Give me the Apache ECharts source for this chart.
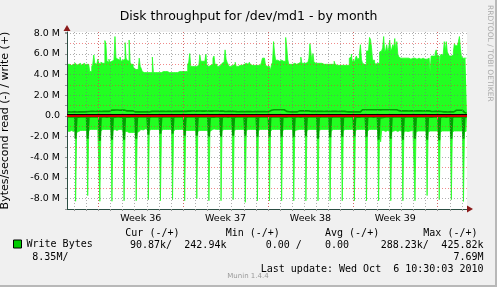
<!doctype html>
<html>
<head>
<meta charset="utf-8">
<title>Disk throughput for /dev/md1 - by month</title>
<script src="https://cdn.jsdelivr.net/npm/echarts@6/dist/echarts.min.js"></script>
<style>
  html, body { margin: 0; padding: 0; background: #f0f0f0; }
  #main { width: 497px; height: 287px; }
</style>
</head>
<body>
<div id="main"></div>
<script>
// 2 hour slots, first one Fri Sep 3 2010 10:00
var slotStart = Date.UTC(2010, 8, 3, 10, 0);
var slotMs = 2 * 3600 * 1000;

// values in MB/s, one row per 12 slots (one day)
var writeMax = [
  5.0,4.9,5.0,5.1,4.9,5.0,5.0,4.9,5.1,5.0,4.9,5.0,
  5.0,5.1,4.9,5.0,5.0,5.1,4.9,5.0,5.1,5.0,4.9,4.3,
  4.3,4.8,5.0,5.9,5.1,5.0,5.0,5.5,5.1,5.0,5.2,5.1,
  5.2,5.1,7.3,7.0,5.3,5.2,5.5,5.2,5.3,5.2,5.4,5.3,
  7.69,5.6,5.5,5.5,5.4,5.7,5.3,5.4,5.3,5.5,7.1,5.6,
  5.4,5.3,7.35,5.2,5.0,5.0,4.8,4.6,4.5,4.5,4.5,4.6,
  5.6,4.8,4.6,4.3,4.2,4.2,4.2,4.2,4.2,4.2,4.2,4.2,
  4.2,5.7,4.2,4.2,4.2,4.2,4.2,4.2,4.2,4.2,4.3,4.3,
  4.4,4.3,4.4,4.3,4.2,4.2,4.2,4.2,4.2,4.2,4.2,4.2,
  4.2,4.2,4.3,4.3,4.3,4.3,4.3,4.3,4.3,4.3,4.3,4.3,
  5.0,5.2,6.05,4.8,4.8,4.8,4.8,4.9,4.8,4.8,4.9,5.0,
  5.9,5.3,5.3,5.2,5.3,5.2,6.0,4.9,4.8,4.9,4.9,4.8,
  5.0,5.6,5.8,5.0,5.0,4.8,4.8,4.9,4.9,5.0,5.1,5.2,
  5.3,6.4,5.5,5.2,5.0,4.8,4.8,4.8,4.9,4.9,5.0,5.2,
  4.8,4.8,4.9,4.9,5.0,4.9,4.9,5.0,5.0,5.1,5.0,5.0,
  5.1,5.2,5.0,4.9,4.9,4.9,4.9,4.9,4.9,4.9,4.9,4.9,
  5.0,5.2,5.6,5.6,5.5,4.9,4.8,4.8,4.8,4.8,4.4,5.0,
  5.2,7.2,6.1,5.4,5.4,5.4,5.3,5.4,5.4,5.3,5.3,5.3,
  5.3,7.6,6.7,5.5,5.0,5.0,5.0,5.0,5.0,5.1,5.0,5.0,
  5.1,5.1,5.1,5.2,5.7,5.1,5.1,5.2,5.1,5.1,5.2,5.3,
  5.6,7.0,6.1,5.3,6.05,5.2,5.1,5.1,5.1,5.1,5.1,5.1,
  5.1,5.1,5.0,5.0,5.0,5.0,5.0,5.1,5.0,5.0,5.0,5.0,
  5.0,5.3,5.0,4.9,4.9,4.9,4.9,4.9,4.9,4.9,4.9,4.9,
  4.9,4.9,4.9,4.9,5.6,5.7,6.0,5.2,5.4,5.2,5.6,5.8,
  5.5,5.6,6.0,6.9,5.5,5.1,5.0,5.1,5.0,6.3,6.3,6.4,
  7.6,7.4,6.6,5.4,5.4,5.2,5.0,5.1,5.0,5.1,6.2,6.3,
  6.3,6.6,7.69,6.2,6.4,6.9,6.2,6.6,7.35,6.3,6.5,6.9,
  6.6,7.5,6.4,7.2,6.0,5.7,5.6,5.6,5.6,5.5,5.6,5.6,
  5.6,5.5,5.6,5.6,5.5,5.6,5.6,5.5,5.6,5.6,5.5,5.6,
  5.6,5.6,5.5,5.5,5.6,5.6,5.5,5.6,5.5,5.5,5.6,5.6,
  4.3,5.8,5.8,5.9,5.8,6.1,6.4,5.9,5.8,3.9,5.8,6.0,
  5.8,6.0,7.2,6.3,7.2,6.2,6.0,5.8,5.8,5.8,5.9,6.2,
  7.0,6.8,6.8,6.9,7.2,7.69,6.5,5.7,5.6,5.6,5.6,5.6,
  5.6
];

var readMax = [
  -1.45,-1.4,-1.5,-1.45,-1.4,-1.5,-1.45,-1.5,-1.4,-8.25,-1.6,-1.5,
  -1.45,-1.4,-1.45,-1.4,-1.5,-1.4,-1.45,-1.4,-1.35,-7.7,-1.5,-1.3,
  -1.3,-1.25,-1.3,-1.35,-1.3,-1.25,-1.3,-1.3,-1.35,-8.25,-1.45,-1.3,
  -1.3,-1.35,-1.3,-1.25,-1.3,-1.3,-1.35,-1.3,-1.3,-8.25,-1.4,-1.35,
  -1.3,-1.35,-1.4,-1.3,-1.35,-1.3,-1.4,-1.35,-1.4,-8.2,-1.5,-1.45,
  -1.5,-1.55,-1.6,-1.55,-1.6,-1.65,-1.6,-1.55,-1.6,-8.2,-1.6,-1.5,
  -1.35,-1.3,-1.3,-1.35,-1.3,-1.3,-1.25,-1.3,-1.3,-8.1,-1.4,-1.3,
  -1.3,-1.25,-1.3,-1.3,-1.35,-1.3,-1.3,-1.25,-1.3,-8.2,-1.4,-1.3,
  -1.3,-1.3,-1.35,-1.3,-1.3,-1.25,-1.3,-1.3,-1.35,-8.1,-1.45,-1.3,
  -1.3,-1.35,-1.3,-1.3,-1.25,-1.3,-1.3,-1.35,-1.3,-8.2,-1.4,-1.35,
  -1.4,-1.35,-1.4,-1.45,-1.4,-1.35,-1.4,-1.4,-1.45,-8.0,-1.5,-1.4,
  -1.4,-1.4,-1.45,-1.4,-1.35,-1.4,-1.45,-1.4,-1.4,-8.2,-1.5,-1.35,
  -1.3,-1.3,-1.25,-1.3,-1.3,-1.25,-1.3,-1.3,-1.3,-8.2,-1.4,-1.3,
  -1.3,-1.25,-1.3,-1.3,-1.25,-1.3,-1.3,-1.3,-1.25,-8.1,-1.4,-1.3,
  -1.3,-1.3,-1.25,-1.3,-1.3,-1.3,-1.25,-1.3,-1.3,-8.35,-1.4,-1.3,
  -1.3,-1.3,-1.35,-1.3,-1.3,-1.25,-1.3,-1.3,-1.3,-8.2,-1.4,-1.3,
  -1.3,-1.35,-1.3,-1.3,-1.35,-1.3,-1.3,-1.3,-1.35,-8.2,-1.45,-1.3,
  -1.3,-1.3,-1.35,-1.3,-1.3,-1.3,-1.35,-1.3,-1.3,-8.2,-1.4,-1.3,
  -1.3,-1.35,-1.3,-1.3,-1.3,-1.35,-1.3,-1.3,-1.3,-8.2,-1.45,-1.35,
  -1.3,-1.3,-1.3,-1.35,-1.3,-1.3,-1.3,-1.35,-1.3,-8.2,-1.4,-1.3,
  -1.3,-1.3,-1.35,-1.3,-1.3,-1.3,-1.3,-1.3,-1.35,-8.2,-1.4,-1.3,
  -1.3,-1.35,-1.3,-1.3,-1.3,-1.35,-1.3,-1.3,-1.3,-8.2,-1.45,-1.3,
  -1.3,-1.3,-1.3,-1.35,-1.3,-1.3,-1.35,-1.3,-1.3,-8.2,-1.4,-1.35,
  -1.3,-1.3,-1.35,-1.3,-1.3,-1.3,-1.3,-1.35,-1.3,-8.2,-1.4,-1.3,
  -1.3,-1.35,-1.3,-1.3,-1.3,-1.35,-1.3,-1.3,-1.3,-8.2,-1.45,-1.3,
  -1.3,-1.3,-1.35,-1.3,-1.3,-1.3,-1.35,-1.3,-1.3,-8.2,-1.4,-2.5,
  -1.4,-1.45,-1.4,-1.5,-1.45,-1.4,-1.45,-1.5,-1.4,-8.2,-1.55,-1.45,
  -1.45,-1.5,-1.4,-1.45,-1.5,-1.45,-1.4,-1.45,-1.5,-8.2,-1.55,-1.45,
  -1.45,-1.4,-1.5,-1.45,-1.45,-1.5,-1.4,-1.45,-1.45,-8.2,-1.55,-1.45,
  -1.45,-1.5,-1.45,-1.4,-1.45,-1.5,-1.45,-1.45,-1.4,-7.7,-1.55,-1.45,
  -1.45,-1.45,-1.5,-1.45,-1.4,-1.45,-1.5,-1.45,-1.45,-8.1,-1.55,-1.45,
  -1.4,-1.45,-1.5,-1.45,-1.45,-1.4,-1.45,-1.5,-1.45,-8.1,-1.55,-1.45,
  -1.45,-1.5,-1.45,-1.4,-1.45,-1.45,-1.5,-1.45,-1.45,-8.27,-1.55,-1.45,
  -1.45
];

var writeAvg = [
  0.40,0.40,0.41,0.40,0.39,0.40,0.40,0.41,0.40,0.40,0.39,0.40,
  0.40,0.41,0.40,0.40,0.40,0.39,0.40,0.40,0.41,0.40,0.44,0.45,
  0.45,0.46,0.45,0.45,0.44,0.45,0.45,0.46,0.45,0.45,0.44,0.45,
  0.45,0.45,0.46,0.45,0.45,0.44,0.45,0.55,0.58,0.58,0.57,0.58,
  0.58,0.57,0.58,0.58,0.56,0.58,0.57,0.58,0.58,0.57,0.52,0.50,
  0.50,0.51,0.50,0.50,0.49,0.50,0.42,0.40,0.40,0.41,0.40,0.40,
  0.40,0.40,0.39,0.40,0.40,0.40,0.41,0.40,0.40,0.39,0.40,0.45,
  0.45,0.46,0.45,0.45,0.45,0.44,0.45,0.45,0.46,0.45,0.45,0.45,
  0.45,0.45,0.44,0.45,0.46,0.45,0.45,0.45,0.44,0.45,0.45,0.46,
  0.45,0.45,0.45,0.44,0.45,0.46,0.45,0.45,0.45,0.44,0.45,0.45,
  0.47,0.48,0.47,0.48,0.48,0.47,0.48,0.48,0.47,0.48,0.48,0.47,
  0.48,0.48,0.47,0.48,0.47,0.48,0.48,0.47,0.48,0.48,0.47,0.48,
  0.47,0.48,0.48,0.47,0.48,0.47,0.48,0.48,0.47,0.48,0.48,0.47,
  0.45,0.45,0.44,0.45,0.45,0.46,0.45,0.44,0.45,0.45,0.44,0.45,
  0.42,0.42,0.41,0.42,0.42,0.43,0.42,0.42,0.41,0.42,0.42,0.42,
  0.42,0.43,0.42,0.42,0.41,0.42,0.42,0.43,0.42,0.42,0.42,0.42,
  0.42,0.42,0.43,0.42,0.42,0.42,0.41,0.42,0.42,0.43,0.55,0.60,
  0.60,0.61,0.60,0.60,0.59,0.60,0.60,0.61,0.60,0.60,0.59,0.60,
  0.60,0.45,0.40,0.40,0.41,0.40,0.40,0.39,0.40,0.40,0.41,0.40,
  0.40,0.48,0.50,0.50,0.51,0.50,0.50,0.49,0.50,0.50,0.51,0.50,
  0.47,0.46,0.45,0.45,0.46,0.45,0.45,0.44,0.45,0.45,0.46,0.45,
  0.45,0.45,0.44,0.45,0.45,0.46,0.45,0.45,0.44,0.45,0.45,0.45,
  0.45,0.46,0.45,0.45,0.44,0.45,0.45,0.45,0.46,0.45,0.45,0.44,
  0.42,0.41,0.40,0.40,0.41,0.40,0.40,0.42,0.40,0.40,0.41,0.40,
  0.40,0.41,0.40,0.58,0.60,0.60,0.61,0.60,0.60,0.59,0.60,0.60,
  0.60,0.61,0.60,0.59,0.60,0.60,0.60,0.61,0.60,0.60,0.59,0.60,
  0.60,0.60,0.61,0.60,0.60,0.59,0.60,0.60,0.61,0.60,0.60,0.60,
  0.60,0.59,0.60,0.60,0.52,0.50,0.50,0.49,0.50,0.50,0.51,0.50,
  0.50,0.50,0.49,0.50,0.50,0.51,0.50,0.50,0.49,0.50,0.50,0.50,
  0.50,0.51,0.50,0.50,0.49,0.50,0.50,0.50,0.51,0.50,0.50,0.49,
  0.45,0.45,0.44,0.45,0.45,0.46,0.45,0.44,0.45,0.45,0.44,0.45,
  0.40,0.40,0.41,0.40,0.40,0.39,0.40,0.40,0.41,0.40,0.40,0.40,
  0.55,0.56,0.55,0.55,0.54,0.55,0.55,0.56,0.55,0.50,0.35,0.26,
  0.24
];

var readAvg = [
  -0.08,-0.08,-0.07,-0.08,-0.08,-0.09,-0.08,-0.08,-0.07,-2.2,-0.12,-0.09,
  -0.08,-0.07,-0.08,-0.08,-0.09,-0.08,-0.08,-0.07,-0.08,-2.2,-0.12,-0.08,
  -0.08,-0.08,-0.09,-0.08,-0.07,-0.08,-0.08,-0.08,-0.09,-2.4,-0.12,-0.08,
  -0.07,-0.08,-0.08,-0.09,-0.08,-0.08,-0.07,-0.08,-0.08,-2.3,-0.12,-0.09,
  -0.08,-0.08,-0.07,-0.08,-0.08,-0.09,-0.08,-0.08,-0.07,-2.3,-0.12,-0.08,
  -0.08,-0.09,-0.08,-0.08,-0.07,-0.08,-0.08,-0.09,-0.08,-2.2,-0.12,-0.08,
  -0.08,-0.08,-0.07,-0.08,-0.09,-0.08,-0.08,-0.07,-0.08,-1.8,-0.11,-0.08,
  -0.07,-0.08,-0.08,-0.08,-0.09,-0.08,-0.07,-0.08,-0.08,-1.7,-0.11,-0.08,
  -0.08,-0.08,-0.09,-0.08,-0.08,-0.07,-0.08,-0.08,-0.09,-1.7,-0.11,-0.08,
  -0.08,-0.07,-0.08,-0.08,-0.09,-0.08,-0.08,-0.07,-0.08,-1.9,-0.12,-0.08,
  -0.09,-0.08,-0.08,-0.07,-0.08,-0.08,-0.09,-0.08,-0.08,-1.9,-0.12,-0.08,
  -0.08,-0.08,-0.07,-0.08,-0.09,-0.08,-0.08,-0.08,-0.07,-2.0,-0.12,-0.09,
  -0.08,-0.09,-0.08,-0.08,-0.07,-0.08,-0.08,-0.09,-0.08,-2.0,-0.12,-0.08,
  -0.07,-0.08,-0.08,-0.09,-0.08,-0.08,-0.07,-0.08,-0.08,-1.9,-0.12,-0.08,
  -0.08,-0.08,-0.09,-0.08,-0.08,-0.07,-0.08,-0.08,-0.09,-1.9,-0.12,-0.08,
  -0.08,-0.07,-0.08,-0.08,-0.09,-0.08,-0.08,-0.07,-0.08,-2.0,-0.12,-0.08,
  -0.09,-0.08,-0.08,-0.07,-0.08,-0.08,-0.09,-0.08,-0.08,-2.0,-0.12,-0.08,
  -0.08,-0.08,-0.07,-0.08,-0.09,-0.08,-0.08,-0.08,-0.07,-2.0,-0.12,-0.09,
  -0.08,-0.09,-0.08,-0.08,-0.07,-0.08,-0.08,-0.09,-0.08,-2.0,-0.12,-0.08,
  -0.07,-0.08,-0.08,-0.09,-0.08,-0.08,-0.07,-0.08,-0.08,-1.95,-0.12,-0.08,
  -0.08,-0.08,-0.09,-0.08,-0.08,-0.07,-0.08,-0.08,-0.09,-2.2,-0.12,-0.08,
  -0.08,-0.07,-0.08,-0.08,-0.09,-0.08,-0.08,-0.07,-0.08,-2.05,-0.12,-0.08,
  -0.09,-0.08,-0.08,-0.07,-0.08,-0.08,-0.09,-0.08,-0.08,-2.0,-0.12,-0.08,
  -0.08,-0.08,-0.07,-0.08,-0.09,-0.08,-0.08,-0.08,-0.07,-1.95,-0.12,-0.09,
  -0.08,-0.09,-0.08,-0.08,-0.07,-0.08,-0.08,-0.09,-0.08,-2.0,-0.12,-0.08,
  -0.07,-0.08,-0.08,-0.09,-0.08,-0.08,-0.07,-0.08,-0.08,-2.3,-0.12,-0.14,
  -0.08,-0.08,-0.09,-0.08,-0.08,-0.07,-0.08,-0.08,-0.09,-2.2,-0.12,-0.08,
  -0.08,-0.07,-0.08,-0.08,-0.09,-0.08,-0.08,-0.07,-0.08,-2.3,-0.12,-0.08,
  -0.09,-0.08,-0.08,-0.07,-0.08,-0.08,-0.09,-0.08,-0.08,-2.2,-0.12,-0.08,
  -0.08,-0.08,-0.07,-0.08,-0.09,-0.08,-0.08,-0.08,-0.07,-2.3,-0.12,-0.09,
  -0.08,-0.09,-0.08,-0.08,-0.07,-0.08,-0.08,-0.09,-0.08,-2.35,-0.12,-0.08,
  -0.07,-0.08,-0.08,-0.09,-0.08,-0.08,-0.07,-0.08,-0.08,-2.2,-0.12,-0.08,
  -0.08,-0.08,-0.09,-0.08,-0.08,-0.07,-0.08,-0.08,-0.09,-2.2,-0.12,-0.09,
  -0.09
];

var legendHead = ['Cur (-/+)', 'Min (-/+)', 'Avg (-/+)', 'Max (-/+)'];
var legendVals = ['90.87k/', '242.94k', '0.00 /', '0.00', '288.23k/', '425.82k', '8.35M/', '7.69M'];
var lastUpdate = 'Last update: Wed Oct  6 10:30:03 2010';

var slotTimes = [];
var slots = [];
for (var i = 0; i < writeMax.length; i++) {
  var d = new Date(slotStart + i * slotMs);
  slotTimes.push(d);
  slots.push(d.toISOString().slice(0, 16).replace('T', ' '));
}
function mb(arr) { return arr.map(function (v) { return Math.round(v * 1e6); }); }

function isoWeek(d) {
  var t = new Date(Date.UTC(d.getUTCFullYear(), d.getUTCMonth(), d.getUTCDate()));
  var day = t.getUTCDay() || 7;
  t.setUTCDate(t.getUTCDate() + 4 - day);
  var y0 = new Date(Date.UTC(t.getUTCFullYear(), 0, 1));
  return Math.ceil(((t - y0) / 86400000 + 1) / 7);
}
function isMidnight(idx) { return slotTimes[idx] && slotTimes[idx].getUTCHours() === 0; }
function isMonday(idx) { return isMidnight(idx) && slotTimes[idx].getUTCDay() === 1; }
function isMidWeek(idx) { return slotTimes[idx] && slotTimes[idx].getUTCDay() === 4 && slotTimes[idx].getUTCHours() === 12; }

var sans = '"DejaVu Sans", sans-serif';
var mono = '"DejaVu Sans Mono", monospace';
var lightGreen = '#22ff22';
var darkGreen = '#00a000';
var gridGray = 'rgba(120,120,120,0.6)';
var gridRed = 'rgba(230,60,60,0.6)';

var myChart = echarts.init(document.getElementById('main'), null, { renderer: 'canvas' });

function txt(s, x, y, align, extra) {
  var st = { text: s, x: x, y: y, font: '10px ' + mono, fill: '#000', align: align || 'left', verticalAlign: 'middle' };
  for (var k in extra) st[k] = extra[k];
  return { type: 'text', style: st, z: 10 };
}

var option = {
  animation: false,
  backgroundColor: '#f0f0f0',
  title: {
    text: 'Disk throughput for /dev/md1 - by month',
    left: 'center', top: 5,
    textStyle: { fontFamily: sans, fontSize: 12.5, fontWeight: 'normal', color: '#000' }
  },
  legend: {
    data: ['Write Bytes'], left: 13, top: 239, padding: 0,
    icon: 'rect', itemWidth: 8, itemHeight: 8, selectedMode: false,
    itemStyle: { borderColor: '#000', borderWidth: 1 },
    textStyle: { fontFamily: mono, fontSize: 10, color: '#000' }
  },
  grid: {
    left: 67, top: 32, width: 400, height: 177, outerBoundsMode: 'none', containLabel: false,
    show: true, backgroundColor: '#fff', borderWidth: 0
  },
  xAxis: [{
    type: 'category', data: slots, boundaryGap: false, z: 3,
    axisLine: { onZero: false, lineStyle: { color: '#2c4d43', width: 1 } },
    axisTick: { interval: isMidnight, length: 2, lineStyle: { color: '#999' } },
    axisLabel: {
      interval: isMidWeek, margin: 5, color: '#000', fontFamily: sans, fontSize: 9.5,
      formatter: function (v) { return 'Week ' + isoWeek(new Date(v.replace(' ', 'T') + ':00Z')); }
    },
    splitLine: { show: true, interval: isMidnight, lineStyle: { color: gridGray, type: [1, 2] } }
  }, {
    type: 'category', data: slots, boundaryGap: false, position: 'bottom', z: 4,
    axisLine: { show: false },
    axisTick: { show: true, interval: isMonday, length: 3, lineStyle: { color: '#e06060' } },
    axisLabel: { show: false },
    splitLine: { show: true, interval: isMonday, lineStyle: { color: gridRed, type: [1, 2] } }
  }],
  yAxis: {
    type: 'value', min: -9e6, max: 8.13e6, interval: 1e6, z: 3,
    name: 'Bytes/second read (-) / write (+)', nameLocation: 'middle', nameGap: 56, nameRotate: 90,
    nameTextStyle: { fontFamily: sans, fontSize: 11, color: '#000' },
    axisLine: { show: true, lineStyle: { color: '#2c4d43' } },
    axisTick: { show: true, length: 2, lineStyle: { color: '#999' } },
    axisLabel: {
      margin: 7, color: '#000', fontFamily: sans, fontSize: 9.5,
      formatter: function (v) {
        if (Math.round(v) % 2e6 !== 0) return '';
        if (v === 0) return '0.0';
        return (v / 1e6).toFixed(1) + ' M';
      }
    },
    splitLine: { show: true, showMinLine: false, showMaxLine: false,
      lineStyle: { color: [gridGray, gridRed], type: [1, 2] } }
  },
  series: [{
    name: 'read max', type: 'line', step: 'middle', data: mb(readMax), symbol: 'none', silent: true,
    lineStyle: { width: 0.8, color: lightGreen }, areaStyle: { color: lightGreen, opacity: 1 }, z: 1
  }, {
    name: 'write max', type: 'line', step: 'middle', data: mb(writeMax), symbol: 'none', silent: true,
    lineStyle: { width: 0.8, color: lightGreen }, areaStyle: { color: lightGreen, opacity: 1 }, z: 1
  }, {
    name: 'Write Bytes', type: 'line', step: 'middle', data: mb(writeAvg), symbol: 'none', silent: true,
    itemStyle: { color: '#00cc00' }, lineStyle: { color: darkGreen, width: 1.6 }, z: 2
  }, {
    name: 'Read Bytes', type: 'line', step: 'middle', data: mb(readAvg), symbol: 'none', silent: true,
    itemStyle: { color: '#00cc00' }, lineStyle: { color: darkGreen, width: 2 }, z: 2,
    markLine: {
      silent: true, symbol: 'none', label: { show: false },
      data: [
        { yAxis: 150000, lineStyle: { color: '#000', width: 1, type: 'solid' } },
        { yAxis: 0, lineStyle: { color: '#d00000', width: 2, type: 'solid' } }
      ]
    }
  }],
  graphic: [
    // frame
    { type: 'rect', shape: { x: 495, y: 0, width: 2, height: 287 }, style: { fill: '#b8b8b8' }, silent: true },
    { type: 'rect', shape: { x: 0, y: 285, width: 497, height: 2 }, style: { fill: '#b8b8b8' }, silent: true },
    // axis arrows
    { type: 'polygon', shape: { points: [[63.5, 31], [70.5, 31], [67, 25]] }, style: { fill: '#8b1a1a' }, z: 10 },
    { type: 'polygon', shape: { points: [[467, 205.5], [467, 212.5], [473, 209]] }, style: { fill: '#8b1a1a' }, z: 10 },
    { type: 'text', rotation: -Math.PI / 2, x: 490, y: 5,
      style: { text: 'RRDTOOL / TOBI OETIKER', font: '7.5px ' + sans, fill: '#aaa', align: 'left', verticalAlign: 'middle' } },
    txt(legendHead[0], 125.3, 233.3), txt(legendHead[1], 225.7, 233.3),
    txt(legendHead[2], 325, 233.3), txt(legendHead[3], 423.3, 233.3),
    txt(legendVals[0], 130, 245.7), txt(legendVals[1], 184.3, 245.7),
    txt(legendVals[2], 265.7, 245.7), txt(legendVals[3], 325, 245.7),
    txt(legendVals[4], 380.7, 245.7), txt(legendVals[5], 483.5, 245.7, 'right'),
    txt(legendVals[6], 32.3, 257.7), txt(legendVals[7], 483.5, 257.7, 'right'),
    txt(lastUpdate, 483.5, 269.7, 'right'),
    txt('Munin 1.4.4', 248, 276.5, 'center', { font: '7px ' + sans, fill: '#999' })
  ]
};
myChart.setOption(option);
</script>
</body>
</html>
